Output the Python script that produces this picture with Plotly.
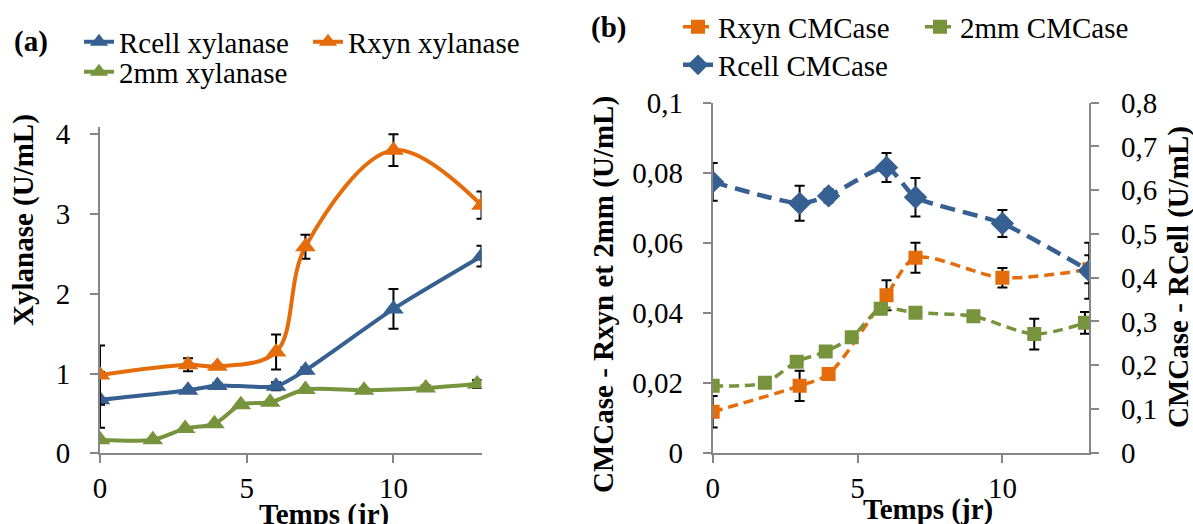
import plotly.graph_objects as go

# ---- data ----
days = [0, 3, 4, 6, 7, 10, 13]
days_2mm = [0, 1.8, 2.9, 3.9, 4.8, 5.8, 7, 9, 11.1, 12.85]

rcell_xyl = [0.67, 0.79, 0.85, 0.84, 1.04, 1.81, 2.47]
rcell_xyl_err = [0.35, 0.03, 0.03, 0.05, 0.04, 0.25, 0.13]
rxyn_xyl = [0.98, 1.11, 1.09, 1.27, 2.59, 3.80, 3.11]
rxyn_xyl_err = [0.37, 0.08, 0.03, 0.22, 0.15, 0.20, 0.17]
mm2_xyl = [0.17, 0.17, 0.31, 0.37, 0.61, 0.64, 0.80, 0.79, 0.82, 0.87]
mm2_xyl_err = [0.02, 0.02, 0.02, 0.02, 0.02, 0.02, 0.02, 0.03, 0.03, 0.05]

rxyn_cmc = [0.0117, 0.0191, 0.0225, 0.0450, 0.0557, 0.0500, 0.0524]
rxyn_cmc_err = [0.0045, 0.0043, 0.001, 0.0043, 0.0043, 0.0028, 0.004]
mm2_cmc = [0.0191, 0.0200, 0.0260, 0.0289, 0.0330, 0.0411, 0.0400, 0.0390, 0.0339, 0.0371]
mm2_cmc_err = [0.0005, 0.0005, 0.0005, 0.0005, 0.001, 0.0005, 0.0005, 0.0005, 0.0044, 0.0031]
rcell_cmc = [0.619, 0.570, 0.587, 0.652, 0.584, 0.524, 0.416]
rcell_cmc_err = [0.043, 0.040, 0.015, 0.033, 0.044, 0.031, 0.064]

# ---- style ----
W, H = 1193, 524
BLUE = "#376092"
ORANGE = "#E46C0A"
GREEN = "#77933C"
AXIS = "#868686"
FONT = "Liberation Serif, Times New Roman, serif"
FS = 29


def px_x(p):
    return p / W


def px_y(p):
    return 1 - p / H


def err(vals):
    return dict(type="data", array=vals, visible=True, color="black",
                thickness=2, width=5)


fig = go.Figure()

# panel (a): xylanase
fig.add_trace(go.Scatter(
    x=days, y=rcell_xyl, error_y=err(rcell_xyl_err), name="Rcell xylanase",
    mode="lines+markers", line=dict(color=BLUE, width=4, shape="spline", smoothing=0.6),
    marker=dict(symbol="triangle-up", size=18, color=BLUE),
    xaxis="x", yaxis="y", legend="legend"))
fig.add_trace(go.Scatter(
    x=days, y=rxyn_xyl, error_y=err(rxyn_xyl_err), name="Rxyn xylanase",
    mode="lines+markers", line=dict(color=ORANGE, width=4, shape="spline", smoothing=1),
    marker=dict(symbol="triangle-up", size=18, color=ORANGE),
    xaxis="x", yaxis="y", legend="legend2"))
fig.add_trace(go.Scatter(
    x=days_2mm, y=mm2_xyl, error_y=err(mm2_xyl_err), name="2mm xylanase",
    mode="lines+markers", line=dict(color=GREEN, width=4, shape="spline", smoothing=0.8),
    marker=dict(symbol="triangle-up", size=18, color=GREEN),
    xaxis="x", yaxis="y", legend="legend3"))

# panel (b): CMCase
fig.add_trace(go.Scatter(
    x=days, y=rxyn_cmc, error_y=err(rxyn_cmc_err), name="Rxyn CMCase",
    mode="lines+markers",
    line=dict(color=ORANGE, width=3.5, dash="10px,6px", shape="spline", smoothing=0.8),
    marker=dict(symbol="square", size=14, color=ORANGE),
    xaxis="x2", yaxis="y2", legend="legend4"))
fig.add_trace(go.Scatter(
    x=days_2mm, y=mm2_cmc, error_y=err(mm2_cmc_err), name="2mm CMCase",
    mode="lines+markers",
    line=dict(color=GREEN, width=3.5, dash="10px,6px", shape="spline", smoothing=0.8),
    marker=dict(symbol="square", size=14, color=GREEN),
    xaxis="x2", yaxis="y2", legend="legend5"))
fig.add_trace(go.Scatter(
    x=days, y=rcell_cmc, error_y=err(rcell_cmc_err), name="Rcell CMCase",
    mode="lines+markers",
    line=dict(color=BLUE, width=4.5, dash="15px,8px", shape="spline", smoothing=0.6),
    marker=dict(symbol="diamond", size=18, color=BLUE),
    xaxis="x2", yaxis="y3", legend="legend6"))

axis_common = dict(
    showline=True, linecolor=AXIS, linewidth=2, showgrid=False, zeroline=False,
    ticks="outside", ticklen=8, tickwidth=2, tickcolor=AXIS, automargin=False,
    tickfont=dict(family=FONT, size=FS, color="black"),
)

fig.update_layout(
    width=W, height=H, margin=dict(l=0, r=0, t=0, b=0, autoexpand=False),
    paper_bgcolor="white", plot_bgcolor="white",
    separators=", ",
    xaxis=dict(domain=[px_x(100), px_x(481.5)], range=[0, 13], dtick=5, tick0=0,
               anchor="y", ticklabelstandoff=0, **axis_common),
    yaxis=dict(domain=[px_y(453.3), px_y(127)], range=[0, 4.09], dtick=1, tick0=0,
               anchor="x", ticklabelstandoff=14, **axis_common),
    xaxis2=dict(domain=[px_x(712.7), px_x(1089.3)], range=[0, 13], dtick=5, tick0=0,
                anchor="y2", ticklabelstandoff=0, **axis_common),
    yaxis2=dict(domain=[px_y(452.7), px_y(102.7)], range=[0, 0.1], dtick=0.02, tick0=0,
                anchor="x2", ticklabelstandoff=14, **axis_common),
    yaxis3=dict(range=[0, 0.8], dtick=0.1, tick0=0, overlaying="y2", side="right",
                anchor="x2", ticklabelstandoff=16, **axis_common),
    showlegend=True,
)

# one legend box per entry, laid out in two rows per panel
legend_spots = {
    "legend": (121, 42),
    "legend2": (350, 42),
    "legend3": (121, 72),
    "legend4": (720, 27),
    "legend5": (962, 27),
    "legend6": (720, 65),
}
for key, (tx, ty) in legend_spots.items():
    fig.update_layout({key: dict(
        x=px_x(tx - 42), y=px_y(ty), xanchor="left", yanchor="middle",
        bgcolor="rgba(0,0,0,0)", borderwidth=0, orientation="h",
        font=dict(family=FONT, size=FS, color="black"),
        tracegroupgap=0, itemclick=False, itemdoubleclick=False,
    )})

bold = dict(family=FONT, size=FS, color="black")
annotations = [
    dict(text="<b>(a)</b>", x=px_x(31), y=px_y(42), xanchor="center", yanchor="middle"),
    dict(text="<b>(b)</b>", x=px_x(608), y=px_y(28), xanchor="center", yanchor="middle"),
    dict(text="<b>Xylanase (U/mL)</b>", x=px_x(24), y=px_y(220), textangle=-90,
         xanchor="center", yanchor="middle"),
    dict(text="<b>Temps (jr)</b>", x=px_x(324), y=px_y(514), xanchor="center", yanchor="middle"),
    dict(text="<b>CMCase - Rxyn et 2mm (U/mL)</b>", x=px_x(603), y=px_y(294),
         textangle=-90, xanchor="center", yanchor="middle"),
    dict(text="<b>CMCase - RCell (U/mL)</b>", x=px_x(1178), y=px_y(277),
         textangle=-90, xanchor="center", yanchor="middle"),
    dict(text="<b>Temps (jr)</b>", x=px_x(928), y=px_y(509), xanchor="center", yanchor="middle"),
]
for a in annotations:
    a.update(xref="paper", yref="paper", showarrow=False, font=bold)
fig.update_layout(annotations=annotations)

fig.write_html("out.html")
